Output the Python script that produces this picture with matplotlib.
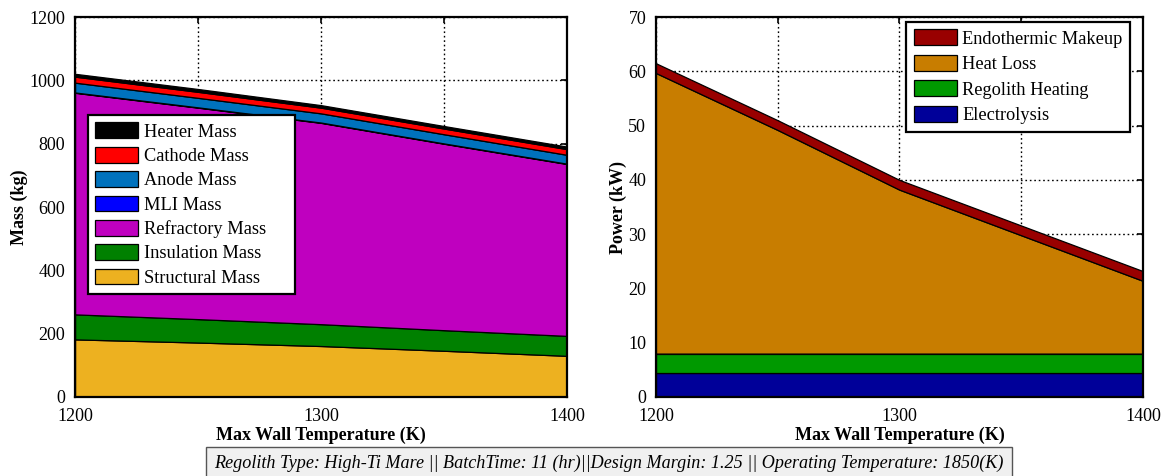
import matplotlib
matplotlib.use("Agg")
import matplotlib.pyplot as plt
import numpy as np

plt.rcParams["font.family"] = ["Liberation Serif", "DejaVu Serif"]

# max wall temperature sweep (K)
temps = [1200, 1250, 1300, 1350, 1400]
temp_labels = ["1200", "", "1300", "", "1400"]

# furnace component masses (kg), bottom of stack first
mass_names = ["Structural Mass", "Insulation Mass", "Refractory Mass", "MLI Mass",
              "Anode Mass", "Cathode Mass", "Heater Mass"]
structural = [182, 172, 161, 146, 130]
insulation = [79, 74, 69, 65, 63]
refractory = [700, 668, 636, 589, 543]
mli = [1, 1, 1, 1, 1]
anode = [31, 30, 29, 29, 28]
cathode = [19, 19, 18, 18, 18]
heater = [9, 9, 8, 8, 8]
mass_colors = ["#EDB120", "#008000", "#BF00BF", "#0000FF", "#0072BD", "#FF0000", "#000000"]

# power draw (kW), bottom of stack first
power_names = ["Electrolysis", "Regolith Heating", "Heat Loss", "Endothermic Makeup"]
electrolysis = [4.4, 4.4, 4.4, 4.4, 4.4]
regolith_heat = [3.6, 3.6, 3.6, 3.6, 3.6]
heat_loss = [51.7, 41.2, 30.2, 21.8, 13.4]
endothermic = [1.8, 1.8, 1.8, 1.8, 1.8]
power_colors = ["#000099", "#009900", "#C87D00", "#990000"]

caption = ("Regolith Type: High-Ti Mare || BatchTime: 11 (hr)||Design Margin: 1.25 || "
           "Operating Temperature: 1850(K)")

fig = plt.figure(figsize=(11.67, 4.76), dpi=100)
ax1 = fig.add_axes([0.0643, 0.166, 0.4216, 0.798])
ax2 = fig.add_axes([0.5621, 0.166, 0.4173, 0.798])


def style(ax, yticks):
    ax.set_xlim(temps[0], temps[-1])
    ax.set_xticks(temps)
    ax.set_xticklabels(temp_labels)
    ax.set_yticks(yticks)
    ax.set_ylim(yticks[0], yticks[-1])
    ax.tick_params(direction="in", top=True, right=True, labelsize=13, length=4, width=1.2)
    ax.tick_params(axis="x", pad=8)
    ax.tick_params(axis="y", pad=7)
    ax.grid(True, linestyle=(0, (1.2, 2)), color="black", linewidth=1.0)
    ax.set_axisbelow(True)
    for s in ax.spines.values():
        s.set_linewidth(1.6)
    ax.set_xlabel("Max Wall Temperature (K)", fontsize=13, fontweight="bold", labelpad=1)


def legend(ax, polys, names, anchor, loc, spacing, mode=None):
    lg = ax.legend(polys[::-1], names[::-1], loc=loc, bbox_to_anchor=anchor, mode=mode,
                   borderaxespad=0, fancybox=False, fontsize=13.2, handlelength=2.35,
                   handleheight=0.95, labelspacing=spacing, handletextpad=0.3,
                   borderpad=0.4, framealpha=1)
    lg.get_frame().set_edgecolor("black")
    lg.get_frame().set_linewidth(1.6)


polys1 = ax1.stackplot(temps, structural, insulation, refractory, mli, anode, cathode, heater,
                       colors=mass_colors, edgecolor="black", linewidth=0.9)
style(ax1, np.arange(0, 1201, 200))
ax1.set_ylabel("Mass (kg)", fontsize=13, fontweight="bold", labelpad=1)
legend(ax1, polys1, mass_names, (0.0264, 0.274, 0.421, 0.468), "upper left", 0.335,
       mode="expand")

polys2 = ax2.stackplot(temps, electrolysis, regolith_heat, heat_loss, endothermic,
                       colors=power_colors, edgecolor="black", linewidth=0.9)
style(ax2, np.arange(0, 71, 10))
ax2.set_ylabel("Power (kW)", fontsize=13, fontweight="bold", labelpad=1)
legend(ax2, polys2, power_names, (0.973, 0.987), "upper right", 0.4)

fig.text(0.522, 0.026, caption, ha="center", va="center", fontsize=13.1, style="italic",
         bbox=dict(boxstyle="square,pad=0.45", facecolor="#f0f0f0", edgecolor="#555555",
                   linewidth=1.0))

fig.savefig("out.png", dpi=100)
